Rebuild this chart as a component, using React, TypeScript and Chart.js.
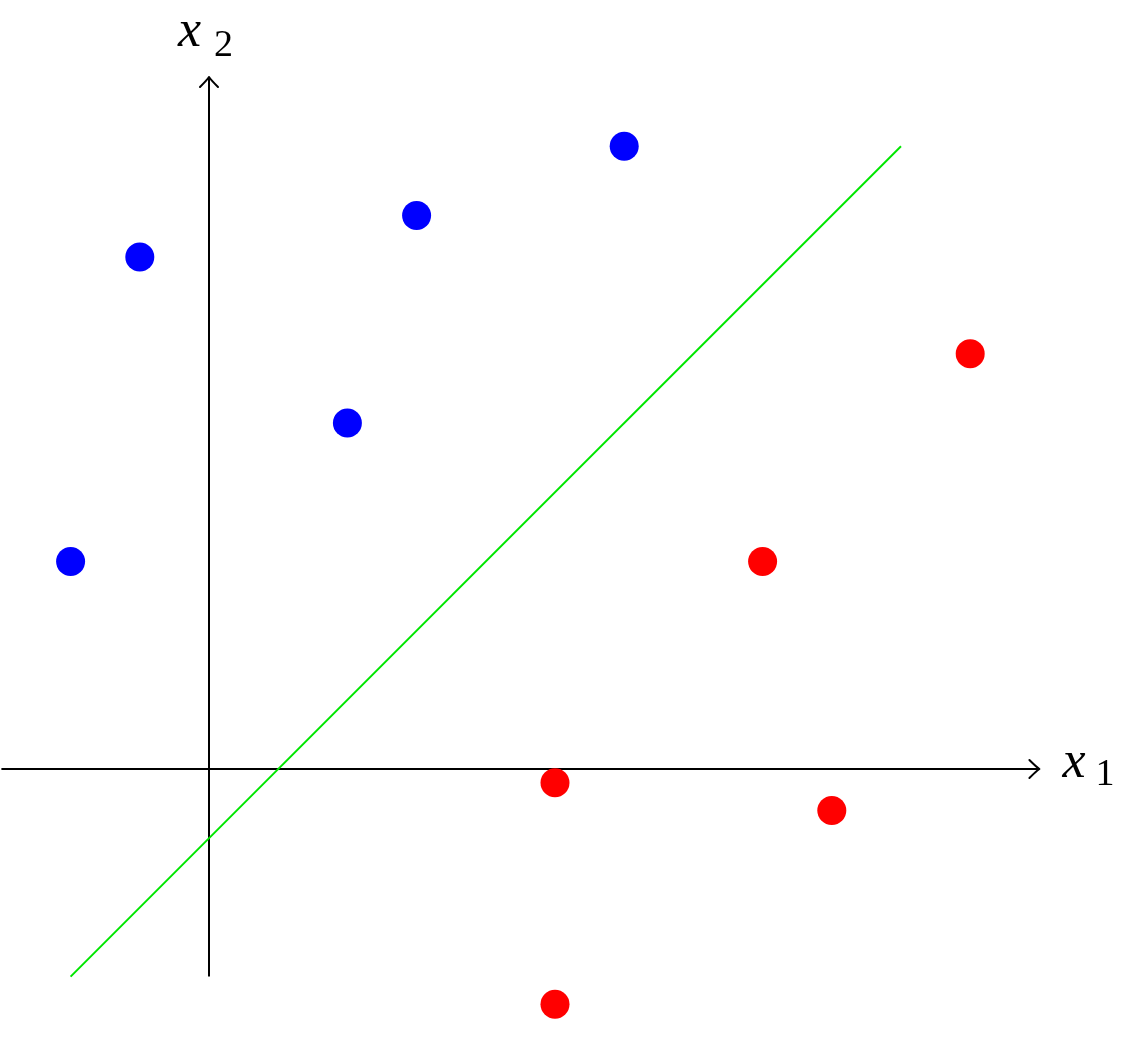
import React, { useEffect, useRef } from "react";
import { Chart, registerables } from "chart.js";

Chart.register(...registerables);

// Class A (blue) points
const blueX = [-2, -1, 2, 3, 6];
const blueY = [3, 7.4, 5, 8, 9];
// Class B (red) points
const redX = [5, 5, 8, 9, 11];
const redY = [-0.2, -3.4, 3, -0.6, 6];
// Separating line y = x - 1
const lineX = [-2, 10];
const lineY = [-3, 9];
// Axes extents
const xAxisRange = [-3, 12];
const yAxisRange = [-3, 10];
const axisLabels = ["x", "1", "x", "2"];

const W = 1144;
const H = 1047;

function arrowHead(ctx: CanvasRenderingContext2D, tx: number, ty: number, dx: number, dy: number) {
  const px = -dy;
  const py = dx;
  const back = 10;
  const half = 9;
  ctx.beginPath();
  for (const s of [1, -1]) {
    const ex = tx - dx * back + px * half * s;
    const ey = ty - dy * back + py * half * s;
    const cx = tx - dx * 3 + px * 2 * s;
    const cy = ty - dy * 3 + py * 2 * s;
    ctx.moveTo(tx, ty);
    ctx.quadraticCurveTo(cx, cy, ex, ey);
  }
  ctx.stroke();
}

const overlay = {
  id: "overlay",
  afterDatasetsDraw(chart: any) {
    const ctx: CanvasRenderingContext2D = chart.ctx;
    const xs = chart.scales.x;
    const ys = chart.scales.y;
    const ox = xs.getPixelForValue(0);
    const oy = ys.getPixelForValue(0);
    const xe = xs.getPixelForValue(xAxisRange[1]);
    const ye = ys.getPixelForValue(yAxisRange[1]);
    ctx.save();
    ctx.strokeStyle = "#000";
    ctx.lineWidth = 2;
    ctx.lineCap = "round";
    arrowHead(ctx, xe, oy, 1, 0);
    arrowHead(ctx, ox, ye, 0, -1);
    ctx.fillStyle = "#000";
    ctx.textBaseline = "alphabetic";
    ctx.textAlign = "left";
    // x1 label
    ctx.font = "italic 52px 'Liberation Serif'";
    ctx.fillText(axisLabels[0], xe + 23, oy + 8);
    ctx.font = "38px 'Liberation Serif'";
    ctx.fillText(axisLabels[1], xe + 56, oy + 16);
    // x2 label
    ctx.font = "italic 52px 'Liberation Serif'";
    ctx.fillText(axisLabels[2], ox - 31, ye - 31);
    ctx.font = "38px 'Liberation Serif'";
    ctx.fillText(axisLabels[3], ox + 5, ye - 21);
    ctx.restore();
  },
};

export default function App() {
  const ref = useRef<HTMLCanvasElement | null>(null);
  useEffect(() => {
    if (!ref.current) return;
    const unit = 69.2;
    const ox = 209;
    const oy = 769;
    const chart = new Chart(ref.current, {
      type: "scatter",
      data: {
        datasets: [
          {
            label: "blue",
            data: blueX.map((x, i) => ({ x, y: blueY[i] })),
            backgroundColor: "#0000ff",
            borderWidth: 0,
            pointRadius: 14.5,
          },
          {
            label: "red",
            data: redX.map((x, i) => ({ x, y: redY[i] })),
            backgroundColor: "#ff0000",
            borderWidth: 0,
            pointRadius: 14.5,
          },
          {
            type: "line",
            label: "boundary",
            data: lineX.map((x, i) => ({ x, y: lineY[i] })),
            borderColor: "rgb(0,230,0)",
            borderWidth: 2,
            pointRadius: 0,
            fill: false,
          },
          {
            type: "line",
            label: "xaxis",
            data: xAxisRange.map((x) => ({ x, y: 0 })),
            borderColor: "#000",
            borderWidth: 2,
            pointRadius: 0,
            fill: false,
          },
          {
            type: "line",
            label: "yaxis",
            data: yAxisRange.map((y) => ({ x: 0, y })),
            borderColor: "#000",
            borderWidth: 2,
            pointRadius: 0,
            fill: false,
          },
        ],
      },
      options: {
        animation: false,
        responsive: false,
        layout: { padding: 0, autoPadding: false } as any,
        plugins: { legend: { display: false }, tooltip: { enabled: false } },
        scales: {
          x: { type: "linear", display: false, min: -ox / unit, max: (W - ox) / unit },
          y: { type: "linear", display: false, min: -(H - oy) / unit, max: oy / unit },
        },
      } as any,
      plugins: [overlay],
    });
    return () => chart.destroy();
  }, []);
  return (
    <div style={{ position: "absolute", left: 0, top: 0, width: W, height: H, background: "#fff" }}>
      <canvas ref={ref} width={W} height={H} style={{ display: "block" }} />
    </div>
  );
}
